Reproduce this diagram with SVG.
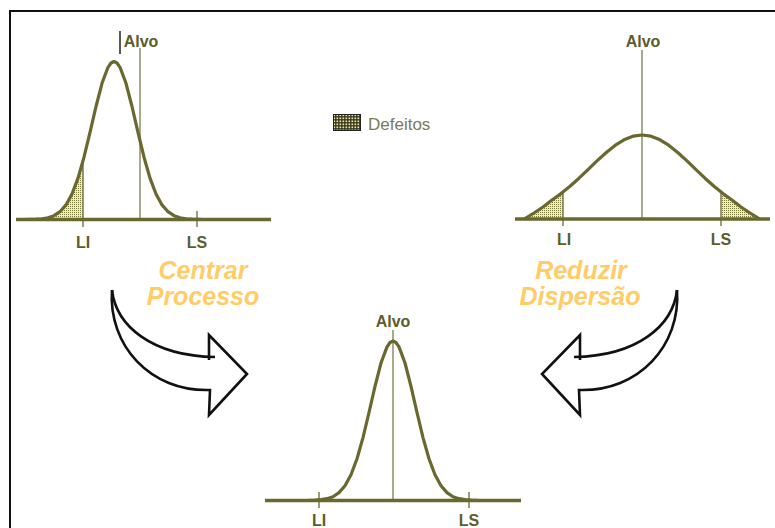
<svg xmlns="http://www.w3.org/2000/svg" width="775" height="528" viewBox="0 0 775 528">
<defs>
<style>
.base{stroke:#68682f;stroke-width:3.5;fill:none}
.curve{stroke:#68682f;stroke-width:3.2;fill:none;stroke-linejoin:round;stroke-linecap:round}
.tgt{stroke:#7d7d4a;stroke-width:1.3}
.tick{stroke:#7d7d4a;stroke-width:1.5}
.lbl{font-family:"Liberation Sans",Arial,sans-serif;font-weight:bold;font-size:16px;fill:#5c5c2c;text-anchor:middle}
.big{font-family:"Liberation Sans",Arial,sans-serif;font-weight:bold;font-style:italic;font-size:25px;fill:#ffcc66;text-anchor:middle}
.arrow{stroke:#111;stroke-width:2.6;fill:none;stroke-linejoin:miter}
.shade{fill:url(#dots);stroke:none}
</style>
<pattern id="dots" width="2" height="2" patternUnits="userSpaceOnUse">
<rect width="2" height="2" fill="#f2eeb8"/>
<rect width="1" height="1" fill="#7a7a3c"/>
</pattern>
<pattern id="ldots" width="3" height="3" patternUnits="userSpaceOnUse">
<rect width="3" height="3" fill="#3a3a1e"/>
<rect x="0.5" y="0.5" width="1.6" height="1.6" fill="#eeeaa8"/>
</pattern>
</defs>
<rect width="775" height="528" fill="#fff"/>
<path d="M10,528 L10,11 L775,11" stroke="#111" stroke-width="2" fill="none"/>

<g id="legend">
<rect x="333.5" y="114.5" width="27" height="16" fill="url(#ldots)" stroke="#222" stroke-width="1"/>
<text x="368" y="130" font-family="'Liberation Sans',Arial,sans-serif" font-size="17" fill="#7a7a55">Defeitos</text>
</g>

<g id="graph-off-center">
<polygon class="shade" points="36,219.2 42,218.8 48,217.8 54,215.7 60,211.7 66,204.9 72,194.0 78,178.1 83,160.9 83,219.5"/>
<line class="tgt" x1="140" y1="48" x2="140" y2="219"/>
<line class="tick" x1="83" y1="160" x2="83" y2="227"/>
<line class="tick" x1="197" y1="211" x2="197" y2="227"/>
<polyline class="curve" points="24,219.5 30,219.4 36,219.2 42,218.8 48,217.8 54,215.7 60,211.7 66,204.9 72,194.0 78,178.1 84,157.2 90,132.3 96,106.5 102,83.3 108,67.3 111,63.0 114,61.5 117,63.0 120,67.3 126,83.3 132,106.5 138,132.3 144,157.2 150,178.1 156,194.0 162,204.9 168,211.7 174,215.7 180,217.8 186,218.8 192,219.2 198,219.4 204,219.5"/>
<line class="base" x1="16" y1="219.5" x2="271" y2="219.5"/>
<line x1="120" y1="31" x2="120" y2="54" stroke="#222" stroke-width="1.5"/>
<text class="lbl" x="141" y="47" font-size="17">Alvo</text>
<text class="lbl" x="83" y="248">LI</text>
<text class="lbl" x="197" y="248">LS</text>
</g>

<g id="graph-wide">
<polygon class="shade" points="525,219 534,213 543,207 552,200 563,192 563,219"/>
<polygon class="shade" points="721,192 732,200 741,207 750,213 759,219 721,219"/>
<line class="tgt" x1="642" y1="50" x2="642" y2="219"/>
<line class="tick" x1="563" y1="192" x2="563" y2="226"/>
<line class="tick" x1="721" y1="191" x2="721" y2="226"/>
<polyline class="curve" points="525,218.5 534,213 543,207 552,200 561,193.6 570,186.3 579,178.2 588,169.6 597,160.9 606,152.7 615,145.4 624,139.8 633,136.2 642,135 651,136.2 660,139.8 669,145.4 678,152.7 687,160.9 696,169.6 705,178.2 714,186.3 723,193.6 732,200 741,207 750,213 759,218.5"/>
<line class="base" x1="515" y1="219" x2="770" y2="219"/>
<text class="lbl" x="643" y="47" font-size="17">Alvo</text>
<text class="lbl" x="564" y="245">LI</text>
<text class="lbl" x="721" y="245">LS</text>
</g>

<g id="graph-target">
<line class="tgt" x1="393" y1="330" x2="393" y2="500"/>
<line class="tick" x1="319" y1="492" x2="319" y2="508"/>
<line class="tick" x1="469" y1="492" x2="469" y2="508"/>
<polyline class="curve" points="309,500.4 315,500.2 321,499.7 327,498.7 333,496.7 339,492.6 345,485.8 351,474.8 357,458.7 363,437.6 369,412.5 375,386.4 381,363.0 387,346.9 390,342.5 393,341 396,342.5 399,346.9 405,363.0 411,386.4 417,412.5 423,437.6 429,458.7 435,474.8 441,485.8 447,492.6 453,496.7 459,498.7 465,499.7 471,500.2 477,500.4"/>
<line class="base" x1="265" y1="500.5" x2="521" y2="500.5"/>
<text class="lbl" x="393" y="327" font-size="17">Alvo</text>
<text class="lbl" x="319" y="526">LI</text>
<text class="lbl" x="469" y="526">LS</text>
</g>

<g id="connectors">
<g id="arrow-centrar">
<path class="arrow" d="M112,290 C116,326 152,356 215,357"/>
<path class="arrow" d="M112,290 C108,345 150,392 210,390 L209,415 L247,374 L209,335 L209,360"/>
<text class="big" x="203" y="279">Centrar</text>
<text class="big" x="203" y="305">Processo</text>
</g>
<g id="arrow-reduzir">
<path class="arrow" d="M677,290 C673,326 637,356 574,357"/>
<path class="arrow" d="M677,290 C681,345 639,392 579,390 L580,415 L542,374 L580,335 L580,360"/>
<text class="big" x="581" y="279">Reduzir</text>
<text class="big" x="580" y="305">Dispersão</text>
</g>
</g>
</svg>
